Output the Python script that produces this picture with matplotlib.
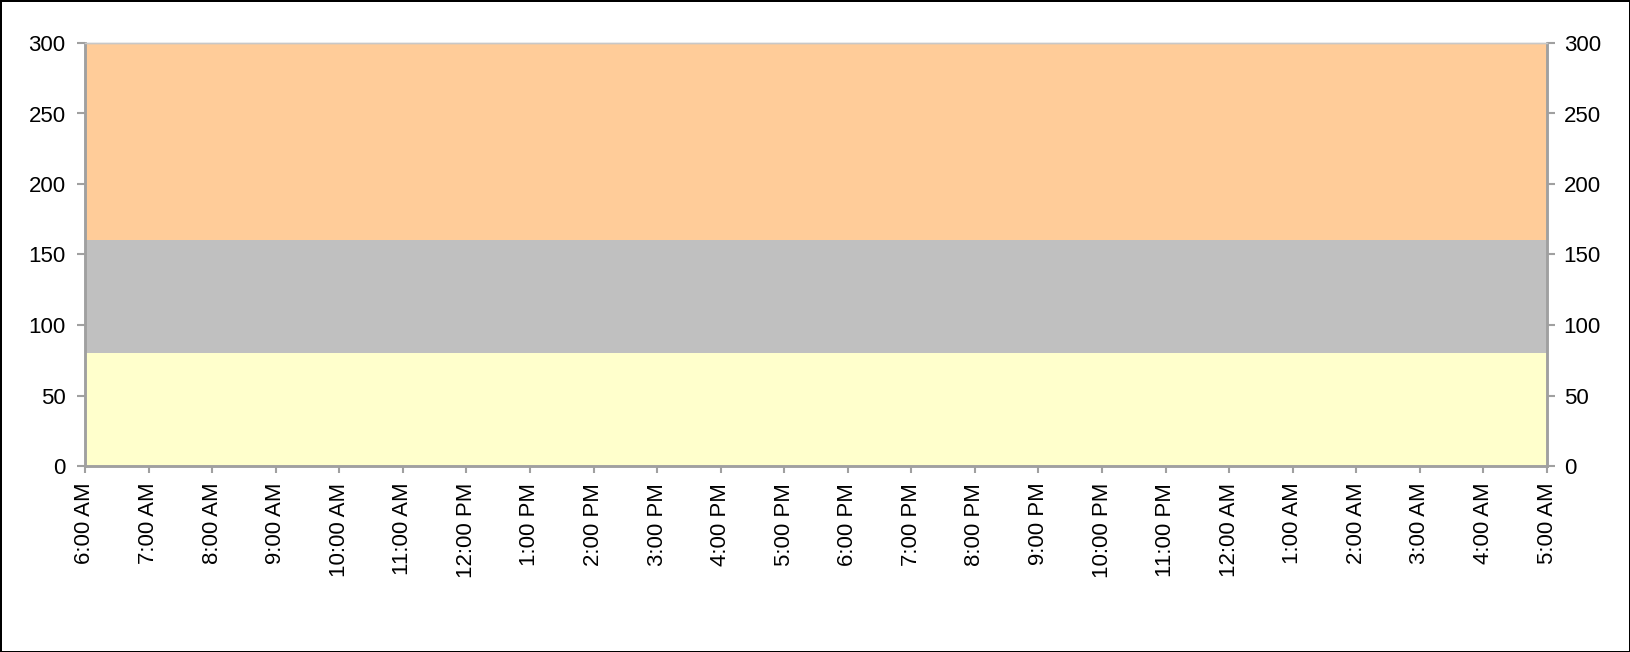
import matplotlib.pyplot as plt

plt.rcParams["font.family"] = ["Liberation Sans", "DejaVu Sans"]

hours = ["6:00 AM", "7:00 AM", "8:00 AM", "9:00 AM", "10:00 AM", "11:00 AM",
         "12:00 PM", "1:00 PM", "2:00 PM", "3:00 PM", "4:00 PM", "5:00 PM",
         "6:00 PM", "7:00 PM", "8:00 PM", "9:00 PM", "10:00 PM", "11:00 PM",
         "12:00 AM", "1:00 AM", "2:00 AM", "3:00 AM", "4:00 AM", "5:00 AM"]

# cumulative band tops
low_band = [80, 80, 80, 80, 80, 80, 80, 80, 80, 80, 80, 80,
            80, 80, 80, 80, 80, 80, 80, 80, 80, 80, 80, 80]
mid_band = [160, 160, 160, 160, 160, 160, 160, 160, 160, 160, 160, 160,
            160, 160, 160, 160, 160, 160, 160, 160, 160, 160, 160, 160]
high_band = [300, 300, 300, 300, 300, 300, 300, 300, 300, 300, 300, 300,
             300, 300, 300, 300, 300, 300, 300, 300, 300, 300, 300, 300]
y_ticks = [0, 50, 100, 150, 200, 250, 300]

fig = plt.figure(figsize=(16.3, 6.52), dpi=100)
fig.patch.set_edgecolor("black")
fig.patch.set_linewidth(2)
ax = fig.add_axes([85 / 1630, 1 - 466 / 652, (1547 - 85) / 1630, (466 - 43) / 652])

x = list(range(len(hours)))
ax.fill_between(x, 0, low_band, color="#FFFFCC", lw=0)
ax.fill_between(x, low_band, mid_band, color="#C0C0C0", lw=0)
ax.fill_between(x, mid_band, high_band, color="#FFCC99", lw=0)

ax.set_xlim(0, len(hours) - 1)
ax.set_ylim(0, 300)
ax.set_xticks(x)
ax.set_xticklabels(hours, rotation=90, fontsize=16)
ax.set_yticks(y_ticks)
ax.set_yticklabels([str(v) for v in y_ticks], fontsize=16)

ax2 = ax.twinx()
ax2.set_ylim(0, 300)
ax2.set_yticks(y_ticks)
ax2.set_yticklabels([str(v) for v in y_ticks], fontsize=16)

for a in (ax, ax2):
    for side in ("left", "right", "bottom"):
        a.spines[side].set_color("#A0A0A0")
        a.spines[side].set_linewidth(1.8)
    a.spines["top"].set_color("#C8C8C8")
    a.spines["top"].set_linewidth(1)
ax.tick_params(axis="y", length=6, width=1.5, color="#A0A0A0", pad=8)
ax.tick_params(axis="x", length=5, width=1.5, color="#A0A0A0", pad=7)
ax2.tick_params(axis="y", length=6, width=1.5, color="#A0A0A0", pad=6)

fig.savefig("out.png", dpi=100, edgecolor=fig.get_edgecolor())
